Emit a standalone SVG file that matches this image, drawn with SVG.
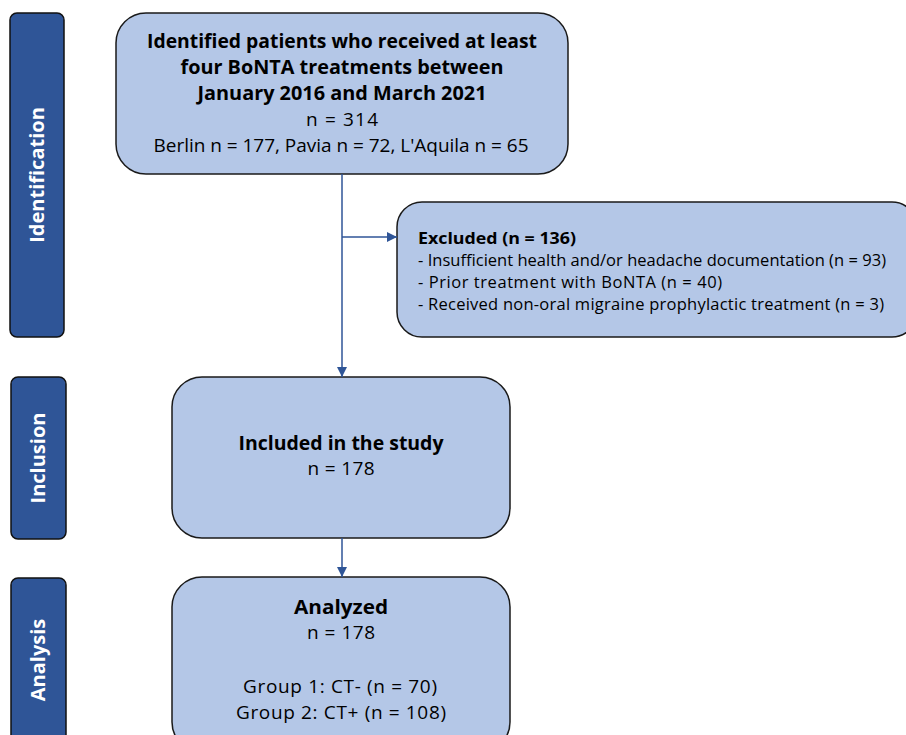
<svg xmlns="http://www.w3.org/2000/svg" width="906" height="735" viewBox="0 0 906 735">
<defs>
<style>
.tab{fill:#2F5597;stroke:#111;stroke-width:1.5}
.box{fill:#B4C7E7;stroke:#1a1a1a;stroke-width:1.5}
.tabt{font-family:"Open Sans","DejaVu Sans",sans-serif;font-weight:bold;font-size:20px;fill:#fff;text-anchor:middle}
.t{font-family:"Open Sans","Liberation Sans",sans-serif;font-size:19px;fill:#000;text-anchor:middle}
.b{font-weight:bold}
.ex{font-family:"Open Sans","Liberation Sans",sans-serif;font-size:16.5px;fill:#000}
.conn{stroke:#2F5597;stroke-width:1.5;fill:none}
</style>
<marker id="arr" viewBox="0 0 10 10" refX="10" refY="5" markerWidth="10" markerHeight="10" markerUnits="userSpaceOnUse" orient="auto">
<path d="M0,0 L10,5 L0,10 Z" fill="#2F5597"/>
</marker>
</defs>
<g id="tab-identification">
<rect class="tab" x="10" y="13" width="54" height="324" rx="7"/>
<text class="tabt" transform="translate(44,175) rotate(-90)">Identification</text>
</g>
<g id="tab-inclusion">
<rect class="tab" x="11" y="377" width="55" height="162" rx="7"/>
<text class="tabt" transform="translate(45,458) rotate(-90)">Inclusion</text>
</g>
<g id="tab-analysis">
<rect class="tab" x="11" y="578" width="55" height="170" rx="7"/>
<text class="tabt" transform="translate(45,660) rotate(-90)">Analysis</text>
</g>
<g id="identified">
<rect class="box" x="116" y="13" width="452" height="161" rx="30"/>
<text class="t b" x="342" y="48" textLength="390" lengthAdjust="spacingAndGlyphs">Identified patients who received at least</text>
<text class="t b" x="342" y="74" textLength="323" lengthAdjust="spacingAndGlyphs">four BoNTA treatments between</text>
<text class="t b" x="342" y="100" textLength="289" lengthAdjust="spacingAndGlyphs">January 2016 and March 2021</text>
<text class="t" x="342" y="126" textLength="72" lengthAdjust="spacing">n = 314</text>
<text class="t" x="341" y="152" textLength="375" lengthAdjust="spacing">Berlin n = 177, Pavia n = 72, L'Aquila n = 65</text>
</g>
<g id="excluded">
<rect class="box" x="397" y="202" width="520" height="135" rx="25"/>
<text class="ex b" x="418" y="244" textLength="158" lengthAdjust="spacingAndGlyphs">Excluded (n = 136)</text>
<text class="ex" x="418" y="266" textLength="468" lengthAdjust="spacing">- Insufficient health and/or headache documentation (n = 93)</text>
<text class="ex" x="418" y="288" textLength="304" lengthAdjust="spacing">- Prior treatment with BoNTA (n = 40)</text>
<text class="ex" x="418" y="310" textLength="466" lengthAdjust="spacing">- Received non-oral migraine prophylactic treatment (n = 3)</text>
</g>
<g id="included">
<rect class="box" x="172" y="377" width="338" height="161" rx="30"/>
<text class="t b" x="341" y="450" textLength="205" lengthAdjust="spacingAndGlyphs">Included in the study</text>
<text class="t" x="341" y="475" textLength="67" lengthAdjust="spacing">n = 178</text>
</g>
<g id="analyzed">
<rect class="box" x="172" y="577" width="338" height="175" rx="30"/>
<text class="t b" x="341" y="614" textLength="94" lengthAdjust="spacingAndGlyphs">Analyzed</text>
<text class="t" x="341" y="639" textLength="68" lengthAdjust="spacing">n = 178</text>
<text class="t" x="340" y="693" textLength="194" lengthAdjust="spacing">Group 1: CT- (n = 70)</text>
<text class="t" x="341" y="719" textLength="210" lengthAdjust="spacing">Group 2: CT+ (n = 108)</text>
</g>
<g id="connectors">
<line class="conn" x1="342" y1="174" x2="342" y2="377" marker-end="url(#arr)"/>
<line class="conn" x1="342" y1="237" x2="397" y2="237" marker-end="url(#arr)"/>
<line class="conn" x1="342" y1="538" x2="342" y2="577" marker-end="url(#arr)"/>
</g>
</svg>
